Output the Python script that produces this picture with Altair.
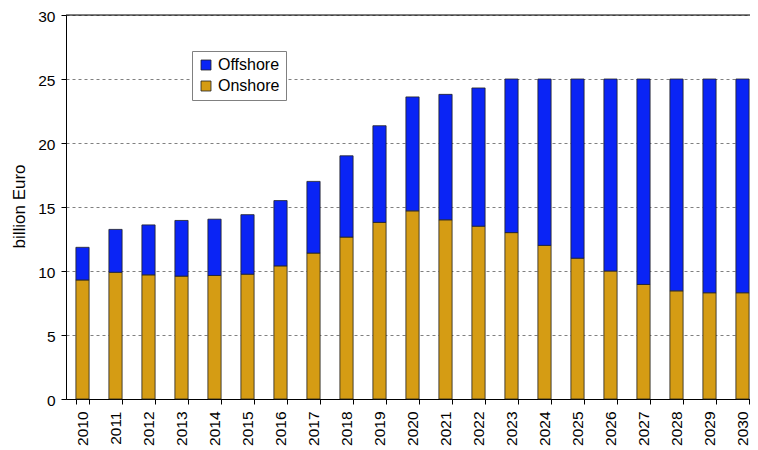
import altair as alt
import pandas as pd

years = [str(y) for y in range(2010, 2031)]
onshore = [9.3, 9.9, 9.7, 9.6, 9.65, 9.75, 10.4, 11.4, 12.65, 13.8, 14.7,
           14.0, 13.5, 13.0, 12.0, 11.0, 10.0, 8.95, 8.45, 8.3, 8.3]
offshore = [2.55, 3.35, 3.9, 4.35, 4.4, 4.65, 5.1, 5.6, 6.35, 7.55, 8.9,
            9.8, 10.8, 12.0, 13.0, 14.0, 15.0, 16.05, 16.55, 16.7, 16.7]
series = ["Offshore", "Onshore"]
colors = ["#0a24f5", "#d59c14"]
top_line = [30]

rows = []
for i, y in enumerate(years):
    rows.append({"year": y, "type": "Onshore", "value": onshore[i], "ord": 0})
    rows.append({"year": y, "type": "Offshore", "value": offshore[i], "ord": 1})
df = pd.DataFrame(rows)

FONT = "Liberation Sans"

x_enc = alt.X(
    "year:N",
    sort=years,
    title=None,
    scale=alt.Scale(paddingInner=0.6, paddingOuter=0.3),
    axis=alt.Axis(
        labelAngle=-90,
        labelAlign="right",
        labelBaseline="middle",
        labelFontSize=15.5,
        labelColor="#000",
        labelPadding=7,
        tickBand="extent",
        tickSize=5,
        tickColor="#000",
        domainColor="#000",
        grid=False,
    ),
)

bars = alt.Chart(df).mark_bar(stroke="#222", strokeWidth=0.8).encode(
    x=x_enc,
    y=alt.Y(
        "value:Q",
        stack="zero",
        title="billion Euro",
        scale=alt.Scale(domain=[0, 30], nice=False),
        axis=alt.Axis(
            values=[0, 5, 10, 15, 20, 25, 30],
            labelFontSize=15.5,
            labelColor="#000",
            labelPadding=6,
            labelOffset=1,
            tickSize=5,
            tickColor="#000",
            domainColor="#000",
            grid=True,
            gridDash=[3, 3],
            gridColor="#808080",
            titleFontSize=17,
            titleFontWeight="normal",
            titleColor="#000",
            titleX=-47,
            titleY=191,
            titleAngle=270,
            titleAlign="center",
            titleBaseline="middle",
        ),
    ),
    color=alt.Color(
        "type:N",
        scale=alt.Scale(domain=series, range=colors),
        legend=alt.Legend(
            title=None,
            orient="none",
            legendX=126,
            legendY=36,
            symbolType="square",
            symbolSize=100,
            symbolStrokeColor="#222",
            symbolStrokeWidth=0.8,
            labelFontSize=16,
            labelColor="#000",
            labelOffset=4,
            rowPadding=5,
            padding=6,
            strokeColor="#808080",
            fillColor="#ffffff",
        ),
    ),
    order=alt.Order("ord:Q", sort="ascending"),
)

rule = alt.Chart(pd.DataFrame({"v": top_line})).mark_rule(
    color="#000", strokeWidth=1.2
).encode(y=alt.Y("v:Q"))

chart = alt.layer(bars, rule).properties(
    width=693,
    height=384,
    autosize=alt.AutoSizeParams(type="none"),
    padding={"left": 58, "top": 7, "right": -9, "bottom": 50},
).configure_view(stroke=None).configure(font=FONT)

chart.save("out.html", embed_options={"renderer": "svg", "actions": False})
